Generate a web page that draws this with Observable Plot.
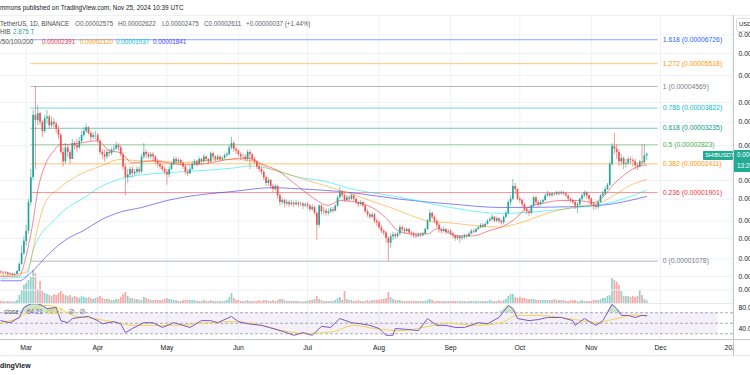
<!DOCTYPE html>
<html>
<head>
<meta charset="utf-8">
<script src="https://cdn.jsdelivr.net/npm/d3@7"></script>
<script src="https://cdn.jsdelivr.net/npm/@observablehq/plot@0.6"></script>
<style>
  html, body { margin: 0; padding: 0; background: #fff; }
  #chart { position: relative; width: 750px; height: 375px; overflow: hidden; background: #fff; font-family: "Liberation Sans", Arial, sans-serif; }
  #chart svg { position: absolute; left: 0; top: 0; }
  .t { position: absolute; font-family: "Liberation Sans", Arial, sans-serif; font-size: 6.3px; line-height: 8px; white-space: nowrap; color: #5d606b; }
  .ln { position: absolute; }
</style>
</head>
<body>
<div id="chart"></div>
<script>
// ---------- DATA (prices in units of 1e-5 USDT, volume in trillions) ----------
const firstOpen = 0.985; // Feb 19 2024 open
const closeFeb = [0.98,0.975,0.98,0.965,0.97,0.96,0.965,0.99,1.05,1.15,1.27];
const highFeb  = [0.995,0.99,0.99,0.985,0.98,0.975,0.975,1.0,1.07,1.22,1.32];
const lowFeb   = [0.965,0.96,0.965,0.955,0.955,0.95,0.95,0.96,0.985,1.04,1.13];
const volFeb   = [2,2,1.5,2,1.5,1.5,2,3,8,13,18];

const closeMar = [1.38,1.75,2.15,3.6,3.45,3.65,3.4,3.15,3.5,3.55,3.3,3.4,3.35,3.2,3.05,2.65,2.45,2.75,2.65,2.5,2.85,2.8,2.75,2.9,3.05,3.15,3.25,3.1,3.0,3.05,3.05];
const highMar  = [1.45,1.8,2.3,3.75,4.569,3.9,3.7,3.45,3.6,3.75,3.6,3.55,3.5,3.4,3.3,3.1,2.75,2.85,2.8,2.7,2.95,2.9,2.95,3.0,3.15,3.25,3.35,3.28,3.15,3.12,3.15];
const lowMar   = [1.22,1.35,1.7,2.1,2.3,3.3,3.3,3.0,3.1,3.35,3.2,3.25,3.25,3.1,2.95,2.6,2.35,2.4,2.55,2.4,2.5,2.7,2.65,2.72,2.85,3.0,3.1,3.05,2.9,2.95,2.95];
const volMar   = [20,23,26,33,30,14,22,12,10,9,8,7,9,8,10,12,9,8,7,8,6,7,6,5,7,6,5,6,5,4,5];

const closeApr = [2.9,2.65,2.6,2.55,2.65,2.62,2.7,2.72,2.8,2.75,2.6,2.35,2.15,2.2,2.3,2.22,2.25,2.3,2.25,2.55,2.65,2.6,2.55,2.6,2.55,2.45,2.4,2.35,2.3,2.25];
const highApr  = [3.1,2.95,2.7,2.7,2.7,2.72,2.75,2.8,2.88,2.85,2.8,2.65,2.4,2.3,2.35,2.35,2.3,2.35,2.35,2.6,2.85,2.7,2.65,2.65,2.65,2.58,2.5,2.45,2.4,2.35];
const lowApr   = [2.85,2.6,2.5,2.45,2.5,2.55,2.58,2.65,2.7,2.68,2.55,2.3,1.85,2.05,2.15,2.15,2.18,2.2,2.2,2.22,2.5,2.52,2.5,2.5,2.45,2.4,2.33,2.3,2.25,2.2];
const volApr   = [6,7,5,4,4,4,3,3,4,4,6,9,11,7,5,5,4,4,3,3,6,5,4,3,3,3,3,3,3,4];

const closeMay = [2.2,2.3,2.4,2.5,2.45,2.48,2.42,2.35,2.25,2.22,2.3,2.4,2.45,2.4,2.5,2.45,2.55,2.5,2.45,2.62,2.55,2.5,2.55,2.5,2.52,2.58,2.6,2.75,2.85,2.72,2.68];
const highMay  = [2.3,2.35,2.45,2.55,2.55,2.52,2.5,2.45,2.38,2.3,2.35,2.45,2.5,2.48,2.55,2.52,2.6,2.58,2.52,2.66,2.65,2.58,2.6,2.58,2.56,2.62,2.65,2.8,3.0,2.9,2.76];
const lowMay   = [2.02,2.15,2.28,2.38,2.4,2.4,2.38,2.3,2.2,2.17,2.2,2.28,2.38,2.35,2.38,2.4,2.42,2.45,2.4,2.42,2.5,2.45,2.47,2.47,2.46,2.5,2.54,2.58,2.7,2.65,2.6];
const volMay   = [5,4,4,3,3,2,2,3,3,3,3,3,3,2,2,2,3,2,2,3,2,2,2,2,2,2,3,6,10,5,3];

const closeJun = [2.6,2.55,2.55,2.5,2.65,2.6,2.5,2.45,2.35,2.3,2.25,2.15,2.05,2.1,2.0,1.95,2.0,1.85,1.75,1.78,1.73,1.75,1.72,1.74,1.72,1.74,1.72,1.73,1.7,1.72];
const highJun  = [2.7,2.65,2.62,2.6,2.7,2.7,2.62,2.55,2.48,2.4,2.35,2.28,2.18,2.15,2.12,2.03,2.04,2.02,1.88,1.82,1.8,1.79,1.78,1.78,1.77,1.78,1.77,1.76,1.75,1.75];
const lowJun   = [2.55,2.48,2.5,2.45,2.45,2.3,2.45,2.4,2.3,2.25,2.2,2.1,2.0,2.0,1.95,1.9,1.92,1.8,1.7,1.72,1.68,1.7,1.68,1.7,1.68,1.7,1.68,1.69,1.65,1.68];
const volJun   = [3,2,2,2,3,2,2,2,2,3,2,3,3,2,2,3,2,3,4,4,3,2,2,2,2,2,2,1.5,1.5,2];

const closeJul = [1.7,1.65,1.68,1.6,1.45,1.7,1.62,1.63,1.6,1.62,1.65,1.63,1.7,1.82,1.9,1.85,1.78,1.82,1.8,1.85,1.8,1.75,1.72,1.75,1.7,1.62,1.58,1.55,1.58,1.5,1.48];
const highJul  = [1.75,1.72,1.72,1.7,1.62,1.72,1.72,1.68,1.66,1.66,1.68,1.68,1.72,1.85,1.98,1.93,1.88,1.86,1.85,1.88,1.87,1.82,1.77,1.78,1.77,1.72,1.65,1.6,1.61,1.6,1.53];
const lowJul   = [1.66,1.62,1.63,1.58,1.28,1.42,1.58,1.58,1.56,1.57,1.6,1.6,1.62,1.68,1.8,1.82,1.75,1.76,1.76,1.78,1.77,1.72,1.68,1.7,1.68,1.6,1.55,1.52,1.53,1.47,1.44];
const volJul   = [2,3,3,4,7,4,3,2,2,2,2,2,3,5,6,3,12,4,3,3,2,2,3,2,2,2,3,2,3,3,3];

const closeAug = [1.42,1.38,1.36,1.3,1.25,1.32,1.34,1.32,1.35,1.42,1.4,1.38,1.4,1.36,1.35,1.33,1.32,1.34,1.33,1.35,1.4,1.5,1.6,1.55,1.5,1.45,1.4,1.38,1.4,1.37,1.38];
const highAug  = [1.5,1.45,1.4,1.38,1.32,1.35,1.37,1.36,1.37,1.45,1.45,1.42,1.42,1.41,1.38,1.37,1.35,1.36,1.36,1.37,1.42,1.52,1.65,1.62,1.57,1.52,1.47,1.42,1.43,1.41,1.4];
const lowAug   = [1.4,1.35,1.33,1.25,1.078,1.2,1.28,1.29,1.3,1.33,1.37,1.35,1.36,1.34,1.32,1.3,1.3,1.31,1.31,1.32,1.34,1.39,1.48,1.52,1.47,1.42,1.36,1.35,1.36,1.34,1.35];
const volAug   = [3,4,4,5,11,6,4,3,3,3,2,2,2,2,2,2,2,2,2,2,2,3,4,3,2,2,2,2,2,2,2];

const closeSep = [1.35,1.33,1.3,1.32,1.3,1.31,1.33,1.32,1.35,1.38,1.37,1.4,1.42,1.45,1.43,1.46,1.5,1.52,1.55,1.5,1.53,1.5,1.48,1.55,1.6,1.75,1.8,2.0,1.95,1.8];
const highSep  = [1.4,1.37,1.34,1.34,1.33,1.33,1.35,1.35,1.37,1.4,1.4,1.42,1.44,1.47,1.47,1.48,1.52,1.55,1.58,1.56,1.55,1.54,1.52,1.57,1.63,1.78,1.85,2.12,2.05,1.97];
const lowSep   = [1.33,1.3,1.27,1.28,1.25,1.28,1.29,1.3,1.31,1.34,1.35,1.36,1.39,1.41,1.41,1.42,1.45,1.49,1.5,1.48,1.48,1.47,1.45,1.46,1.53,1.58,1.7,1.78,1.88,1.78];
const volSep   = [2,2,2,2,2,2,2,1.5,2,2,2,2,2,2,2,2,2,3,2,2,2,3,2,3,4,7,9,9,6,5];

const closeOct = [1.78,1.72,1.65,1.62,1.6,1.7,1.82,1.75,1.72,1.75,1.78,1.85,1.88,1.85,1.88,1.87,1.9,1.88,1.9,1.88,1.85,1.8,1.78,1.75,1.7,1.72,1.8,1.85,1.9,1.85,1.8];
const highOct  = [1.84,1.8,1.74,1.68,1.65,1.72,1.85,1.84,1.78,1.78,1.8,1.88,1.92,1.9,1.9,1.9,1.92,1.92,1.93,1.92,1.9,1.86,1.82,1.8,1.77,1.75,1.82,1.88,1.93,1.92,1.86];
const lowOct   = [1.74,1.68,1.62,1.58,1.56,1.58,1.68,1.72,1.68,1.7,1.72,1.76,1.83,1.82,1.83,1.84,1.85,1.85,1.86,1.85,1.82,1.77,1.74,1.72,1.65,1.6,1.7,1.78,1.82,1.8,1.75];
const volOct   = [6,5,5,4,4,4,4,3,3,3,3,3,3,3,3,4,3,3,3,3,2,2,3,3,3,2,2,3,2,2,2];

const closeNov = [1.72,1.7,1.68,1.75,1.85,1.88,1.95,2.02,2.4,2.78,2.72,2.65,2.45,2.52,2.4,2.42,2.5,2.48,2.46,2.38,2.35,2.45,2.43,2.575,2.611];
const highNov  = [1.82,1.75,1.73,1.77,1.87,1.92,1.98,2.05,2.45,2.85,3.1,2.82,2.7,2.6,2.55,2.5,2.55,2.55,2.52,2.5,2.42,2.48,2.82,2.83,2.622];
const lowNov   = [1.7,1.64,1.65,1.66,1.74,1.82,1.86,1.93,2.0,2.35,2.6,2.5,2.35,2.38,2.3,2.33,2.38,2.4,2.35,2.3,2.28,2.33,2.38,2.4,2.475];
const volNov   = [2,3,3,3,4,5,5,7,8,25,23,21,18,12,7,7,7,6,7,6,7,13,8,4,2.875];

// Moving averages: day offsets from 2024-03-01 and values
const ma20Day = [-11,-3,0,3,5,8,12,15,18,23,31,36,41,46,55,64,70,77,84,89,96,102,109,116,124,131,136,145,152,157,161,167,174,178,187,194,201,206,211,217,224,232,239,246,250,255,259,263,269];
const ma20Val = [0.95,0.955,1.13,1.5,1.93,2.36,2.69,2.83,2.83,2.86,2.92,2.69,2.64,2.43,2.47,2.41,2.39,2.41,2.47,2.51,2.53,2.41,2.28,2.06,1.83,1.71,1.78,1.74,1.64,1.51,1.39,1.35,1.35,1.41,1.33,1.33,1.39,1.43,1.51,1.67,1.74,1.78,1.78,1.75,1.83,2.05,2.19,2.31,2.391];
const ma50Day = [-11,0,2,4,8,14,22,32,41,50,58,67,76,84,95,106,116,128,141,149,158,167,175,184,197,206,214,228,242,249,255,262,269];
const ma50Val = [0.959,0.984,1.085,1.31,1.73,1.96,2.18,2.36,2.5,2.47,2.47,2.43,2.47,2.5,2.49,2.31,2.18,2.03,1.88,1.78,1.68,1.57,1.5,1.48,1.44,1.43,1.48,1.62,1.71,1.75,1.86,2.02,2.12];
const ma100Day = [-11,0,3,12,18,25,32,41,50,61,76,90,97,106,119,128,141,162,184,206,220,239,252,269];
const ma100Val = [0.935,0.95,1.18,1.51,1.68,1.82,1.99,2.13,2.2,2.24,2.28,2.33,2.37,2.31,2.15,2.1,1.96,1.83,1.68,1.6,1.62,1.68,1.74,1.937];
const ma200Day = [-11,-3,3,10,18,25,32,41,50,61,76,90,99,106,119,141,162,184,206,235,249,269];
const ma200Val = [0.917,0.917,0.998,1.15,1.3,1.39,1.51,1.62,1.68,1.78,1.87,1.92,1.96,1.98,1.96,1.9,1.8,1.73,1.68,1.69,1.71,1.841];

// RSI(14) and its moving average
const rsiDay = [-11,-7,-3,-1,2,5,7,9,13,15,18,20,23,27,31,33,38,41,43,46,51,55,59,64,68,71,76,80,83,89,92,96,102,107,113,116,120,124,128,132,136,141,145,149,153,156,159,160,166,170,174,178,182,186,190,196,200,205,209,211,213,218,222,226,232,237,238,242,247,250,252,254,256,258,261,264,267,269];
const rsiVal = [55,51,61,80,87,87,84,78,80,55,51,59,61,63,55,49,53,49,32,40,51,51,42,51,46,42,55,55,51,63,53,49,46,40,32,27,32,27,44,42,59,51,49,46,40,27,27,40,38,36,59,46,46,42,42,51,49,61,84,78,59,55,57,61,61,55,46,59,46,55,70,86,78,65,65,61,65,64.21];
const rsiMaDay = [-11,-3,3,9,14,20,29,40,46,54,64,76,90,102,111,122,133,142,151,163,172,183,195,206,213,221,232,241,248,252,258,264,269];
const rsiMaVal = [51,61,78,84,80,65,59,51,46,46,46,50,53,46,36,30.5,34,46,40,36,42,50,46,51,65,65,61,55,51,55,61,66,63.67];

// Fibonacci retracement
const fibLevels = ["1.618","1.272","1","0.786","0.618","0.5","0.382","0.236","0"];
const fibPrices = [6.726,5.518,4.569,3.822,3.235,2.823,2.411,1.901,1.078];
const fibPriceText = ["0.00006726","0.00005518","0.00004569","0.00003822","0.00003235","0.00002823","0.00002411","0.00001901","0.00001078"];
const fibColors = ["#2962ff","#ff9800","#787b86","#00bcd4","#089981","#4caf50","#ff9800","#f23645","#787b86"];

// Axes
const priceTicks = [7.0,6.0,5.0,4.0,3.4,2.8,2.1,1.8,1.5,1.3,1.1,0.95,0.85];
const monthTickDates = ["2024-03-01","2024-04-01","2024-05-01","2024-06-01","2024-07-01","2024-08-01","2024-09-01","2024-10-01","2024-11-01","2024-12-01","2025-01-01"];
const monthTickLabels = ["Mar","Apr","May","Jun","Jul","Aug","Sep","Oct","Nov","Dec","2025"];
const rsiTicks = [80, 40];

// ---------- BUILD ----------
const FONT = "'Liberation Sans', Arial, sans-serif";
const DAY0 = Date.UTC(2024, 2, 1);
const day = d => new Date(DAY0 + d * 864e5);
const closes = [].concat(closeFeb, closeMar, closeApr, closeMay, closeJun, closeJul, closeAug, closeSep, closeOct, closeNov);
const highs  = [].concat(highFeb, highMar, highApr, highMay, highJun, highJul, highAug, highSep, highOct, highNov);
const lows   = [].concat(lowFeb, lowMar, lowApr, lowMay, lowJun, lowJul, lowAug, lowSep, lowOct, lowNov);
const vols   = [].concat(volFeb, volMar, volApr, volMay, volJun, volJul, volAug, volSep, volOct, volNov);
const UP = "#26a69a", DOWN = "#ef5350";
const candles = closes.map((c, i) => {
  const o = i === 0 ? firstOpen : closes[i - 1];
  return { date: day(i - 11), open: o, close: c, high: highs[i], low: lows[i], vol: vols[i], color: c >= o ? UP : DOWN };
});
const pts = (days, vals) => days.map((d, i) => ({ date: day(d), v: vals[i] }));
const ma20 = pts(ma20Day, ma20Val), ma50 = pts(ma50Day, ma50Val), ma100 = pts(ma100Day, ma100Val), ma200 = pts(ma200Day, ma200Val);
const rsi = pts(rsiDay, rsiVal), rsiMa = pts(rsiMaDay, rsiMaVal);
const fib = fibLevels.map((lv, i) => ({ price: fibPrices[i], color: fibColors[i], label: `${lv} (${fibPriceText[i]})` }));
const monthDates = monthTickDates.map(s => new Date(s + "T00:00:00Z"));
const monthLabel = d => monthTickLabels[monthDates.findIndex(m => +m === +d)];

const xScale = { type: "utc", domain: [day(0), day(275)], range: [25.7, 660] };
const common = { width: 750, height: 375, marginLeft: 0, marginRight: 16,
  style: { background: "transparent", fontFamily: FONT, fontSize: "6.8px", overflow: "visible" } };
const GRID = "#eef1f7";

// Volume layer (under the price layer)
const volPlot = Plot.plot({ ...common, marginTop: 16, marginBottom: 72,
  x: { ...xScale, axis: null },
  y: { domain: [0, 50], range: [303, 253], axis: null },
  marks: [
    Plot.ruleX(monthDates, { stroke: GRID }),
    Plot.ruleX(candles, { x: "date", y1: 0, y2: "vol", stroke: "color", strokeOpacity: 0.5, strokeWidth: 1.7, clip: true })
  ]
});

// Price layer
const pricePlot = Plot.plot({ ...common, marginTop: 16, marginBottom: 72,
  x: { ...xScale, axis: null },
  y: { type: "log", domain: [1.078, 4.569], range: [260.7, 86], axis: null },
  marks: [
    Plot.ruleY(priceTicks, { stroke: GRID }),
    Plot.ruleY(fib, { y: "price", x1: day(2), x2: day(274), stroke: "color", strokeOpacity: 0.55, strokeWidth: 1 }),
    Plot.text(fib, { x: day(276), y: "price", text: "label", fill: "color", textAnchor: "start", fontSize: 6.8 }),
    Plot.line(ma200, { x: "date", y: "v", stroke: "#3a2ff0", strokeOpacity: 0.6, strokeWidth: 1, curve: "monotone-x", clip: true }),
    Plot.line(ma100, { x: "date", y: "v", stroke: "#00e5ff", strokeOpacity: 0.55, strokeWidth: 1, curve: "monotone-x", clip: true }),
    Plot.line(ma50,  { x: "date", y: "v", stroke: "#ff9800", strokeOpacity: 0.55, strokeWidth: 1, curve: "monotone-x", clip: true }),
    Plot.line(ma20,  { x: "date", y: "v", stroke: "#f23645", strokeOpacity: 0.6, strokeWidth: 1, curve: "monotone-x", clip: true }),
    Plot.ruleX(candles, { x: "date", y1: "low", y2: "high", stroke: "color", strokeOpacity: 0.75, strokeWidth: 0.8, clip: true }),
    Plot.ruleX(candles, { x: "date", y1: "open", y2: "close", stroke: "color", strokeWidth: 1.7, clip: true }),
    Plot.axisY({ anchor: "right", ticks: priceTicks, tickFormat: v => (v * 1e-5).toFixed(8), tickSize: 0, tickPadding: 4, label: null, fontSize: 6.8, color: "#131722" })
  ]
});

// RSI pane + time axis
const rsiPlot = Plot.plot({ ...common, marginTop: 303, marginBottom: 35,
  x: { ...xScale, axis: null },
  y: { domain: [40, 80], range: [328, 307], axis: null },
  marks: [
    Plot.ruleX(monthDates, { stroke: GRID }),
    Plot.areaY([day(-20), day(300)], { x: d => d, y1: 30, y2: 70, fill: "#7e57c2", fillOpacity: 0.09, clip: true }),
    Plot.ruleY([70, 50, 30], { stroke: "#9598a1", strokeDasharray: "3,2", strokeOpacity: 0.8 }),
    Plot.areaY(rsi, { x: "date", y1: 70, y2: d => Math.max(70, d.v), fill: "#4caf50", fillOpacity: 0.3, clip: true }),
    Plot.line(rsiMa, { x: "date", y: "v", stroke: "#f5d547", strokeWidth: 1, curve: "monotone-x", clip: true }),
    Plot.line(rsi, { x: "date", y: "v", stroke: "#7e57c2", strokeWidth: 1, clip: true }),
    Plot.axisY({ anchor: "right", ticks: rsiTicks, tickFormat: v => v.toFixed(2), tickSize: 0, tickPadding: 4, label: null, fontSize: 6.8, color: "#131722" }),
    Plot.axisX({ anchor: "bottom", ticks: monthDates, tickFormat: monthLabel, tickSize: 0, tickPadding: 5, label: null, fontSize: 6.8, color: "#131722" })
  ]
});

const chart = document.getElementById("chart");
chart.append(volPlot, pricePlot, rsiPlot);

// ---------- chrome: lines, header texts, labels ----------
function line(l, t, w, h, c) { const e = document.createElement("div"); e.className = "ln"; Object.assign(e.style, { left: l + "px", top: t + "px", width: w + "px", height: h + "px", background: c }); chart.append(e); return e; }
function txt(s, l, y, color, extra) { const e = document.createElement("div"); e.className = "t"; e.textContent = s; e.style.left = l + "px"; e.style.top = (y - 4) + "px"; if (color) e.style.color = color; if (extra) Object.assign(e.style, extra); chart.append(e); return e; }

line(0, 15, 750, 1, "#eef0f4");
line(0, 303, 734, 1, "#e6e8ee");
line(734, 340, 16, 15, "#ffffff");
line(0, 339, 750, 1, "#c3c6ce");
line(0, 355, 750, 1, "#e6e8ee");
line(733, 15, 1, 341, "#c3c6ce");

// header
txt("mmons published on TradingView.com, Nov 25, 2024 10:39 UTC", 0, 8, "#131722", { fontSize: "6.4px" });
txt("TetherUS, 1D, BINANCE", 0, 24, "#4a4d57");
txt("O0.00002575", 75, 24);
txt("H0.00002622", 118, 24);
txt("L0.00002475", 162, 24);
txt("C0.00002611", 204, 24);
txt("+0.00000037 (+1.44%)", 246, 24);
txt("HIB", 0, 32, "#4a4d57");
txt("2.875 T", 13, 32, "#26a69a");
txt("/50/100/200", 0, 42, "#4a4d57");
txt("0.00002391", 42, 42, "#f23645");
txt("0.00002120", 80, 42, "#ff9800");
txt("0.00001937", 116, 42, "#00bcd4");
txt("0.00001841", 153, 42, "#3f3ff5");

// RSI legend
txt("close", 4, 312, "#4a4d57");
txt("64.21", 27, 312, "#7e57c2");
txt("63.67", 47, 312, "#e8c21a");
txt("\u2298", 68, 312, "#787b86", { fontSize: "8px" });
txt("\u2298", 79, 312, "#787b86", { fontSize: "8px" });

// watermark
txt("dingView", 0, 366, "#131722", { fontWeight: "bold", fontSize: "7px" });

// USD box
txt("USD", 739, 24, "#131722", { fontSize: "6px" });
const ub = line(736, 18, 20, 12, "transparent"); ub.style.border = "1px solid #d9dce3"; ub.style.borderRadius = "2px";

// last price labels
const b1 = line(703, 150.5, 30, 9.5, "#22ab94"); b1.style.borderRadius = "1px";
txt("SHIBUSDT", 705, 155.3, "#ffffff", { fontSize: "5.8px" });
line(734, 150, 16, 22, "#22ab94");
txt("0.00002611", 737, 155, "#ffffff");
txt("13:20:58", 737, 166, "#ffffff");
</script>
</body>
</html>
